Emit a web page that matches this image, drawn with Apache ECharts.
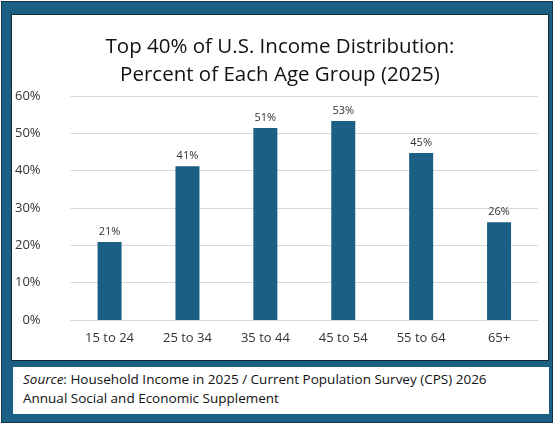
<!DOCTYPE html>
<html><head><meta charset="utf-8">
<script src="https://cdn.jsdelivr.net/npm/echarts@6/dist/echarts.min.js"></script>
<style>
body{margin:0;background:#fff;font-family:"Open Sans",sans-serif;}
#outer{position:absolute;left:1px;top:1px;width:550px;height:420px;background:#1b5f85;border:1px solid #123247;}
#panel{position:absolute;left:9px;top:12px;width:536px;height:345px;background:#fff;border:1px solid #1a2a35;}
#chart{position:absolute;left:0;top:0;width:536px;height:345px;}
#src{position:absolute;left:11px;top:365px;width:526px;height:44px;background:#fff;font-size:13.5px;line-height:19px;color:#111;padding:3px 0 0 10px;font-family:"Open Sans",sans-serif;}
</style></head><body>
<div id="outer">
<div id="panel"><div id="chart"></div></div>
<div id="src"><i>Source</i>: Household Income in 2025 / Current Population Survey (CPS) 2026<br>Annual Social and Economic Supplement</div>
</div>
<script>
const categories=["15 to 24","25 to 34","35 to 44","45 to 54","55 to 64","65+"];
const values=[20.9,41.2,51.4,53.3,44.7,26.2];
const c=echarts.init(document.getElementById('chart'));
c.setOption({
 animation:false,
 title:{text:"Top 40% of U.S. Income Distribution:\nPercent of Each Age Group (2025)",left:'center',top:13,
  textStyle:{fontFamily:"Open Sans",fontWeight:'normal',fontSize:20.5,lineHeight:28,color:'#111'}},
 grid:{left:55,right:10,top:81,bottom:40},
 xAxis:{type:'category',data:categories,axisTick:{show:false},axisLine:{lineStyle:{color:'#d9d9d9'}},
  axisLabel:{color:'#333',fontSize:13,margin:12,fontFamily:"Open Sans"}},
 yAxis:{type:'value',min:0,max:60,interval:10,axisLabel:{formatter:'{value}%',color:'#333',fontSize:13,margin:30,fontFamily:"Open Sans"},
  splitLine:{lineStyle:{color:'#d9d9d9'}}},
 series:[{type:'bar',data:values,barWidth:24,itemStyle:{color:'#1b5f85'},
  label:{show:true,position:'top',formatter:p=>Math.round(p.value)+'%',color:'#333',fontSize:11,fontFamily:"Open Sans"}}]
});
</script></body></html>
